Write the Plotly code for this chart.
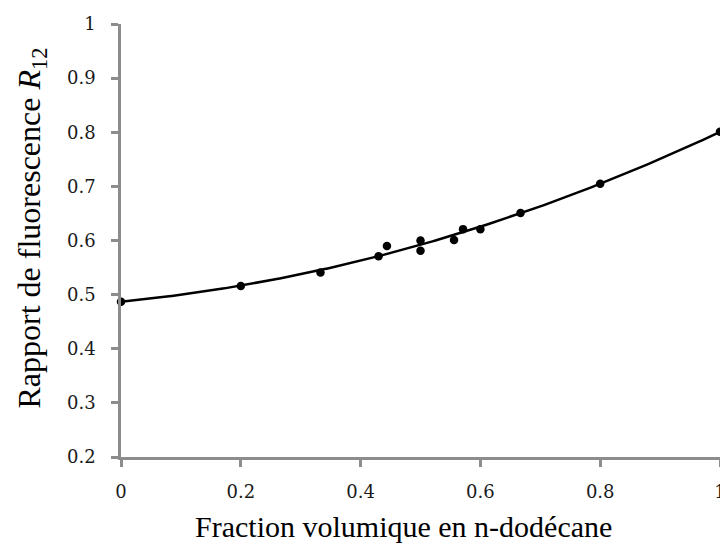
import numpy as np
import plotly.graph_objects as go

fraction = [0.0, 0.2, 0.333, 0.43, 0.444, 0.5, 0.5, 0.556, 0.571, 0.6, 0.667, 0.8, 1.0]
ratio = [0.487, 0.516, 0.541, 0.571, 0.590, 0.600, 0.581, 0.601, 0.621, 0.621, 0.651, 0.705, 0.801]

x_ticks = [0, 0.2, 0.4, 0.6, 0.8, 1]
x_tick_labels = ["0", "0.2", "0.4", "0.6", "0.8", "1"]
y_ticks = [0.2, 0.3, 0.4, 0.5, 0.6, 0.7, 0.8, 0.9, 1.0]
y_tick_labels = ["0.2", "0.3", "0.4", "0.5", "0.6", "0.7", "0.8", "0.9", "1"]

x_title = "Fraction volumique en n-dodécane"
y_title = "Rapport de fluorescence <i>R</i><sub>12</sub>"

coef = np.polyfit(fraction, ratio, 2)
xs = np.linspace(0, 1, 201)
ys = np.polyval(coef, xs)

fig = go.Figure()
fig.add_trace(go.Scatter(x=xs, y=ys, mode="lines", cliponaxis=False,
                         line=dict(color="black", width=2.5), hoverinfo="skip"))
fig.add_trace(go.Scatter(x=fraction, y=ratio, mode="markers", cliponaxis=False,
                         marker=dict(color="black", size=8.5)))

tick_font = dict(family="DejaVu Serif", size=18, color="#1a1a1a")
axis_common = dict(showgrid=False, zeroline=False, showline=True, automargin=False,
                   linecolor="#8c8c8c", linewidth=2.5,
                   ticks="outside", ticklen=7, tickwidth=2.5, tickcolor="#8c8c8c")

fig.update_xaxes(range=[0, 1], tickvals=x_ticks, ticktext=x_tick_labels,
                 tickfont=tick_font, ticklabelstandoff=10, **axis_common)
fig.update_yaxes(range=[0.2, 1], tickvals=y_ticks, ticktext=y_tick_labels,
                 tickfont=tick_font, ticklabelstandoff=12, **axis_common)

fig.add_annotation(text=x_title, xref="paper", yref="paper", x=0.471, y=-0.16,
                   xanchor="center", yanchor="middle", showarrow=False,
                   font=dict(family="Liberation Serif", size=30, color="black"))
fig.add_annotation(text=y_title, xref="paper", yref="paper", x=-0.1486, y=0.53,
                   xanchor="center", yanchor="middle", showarrow=False, textangle=-90,
                   font=dict(family="Liberation Serif", size=32, color="black"))

fig.update_layout(width=720, height=537, showlegend=False,
                  plot_bgcolor="white", paper_bgcolor="white",
                  margin=dict(l=113, r=8, t=16, b=88))

fig.write_html("out.html")
